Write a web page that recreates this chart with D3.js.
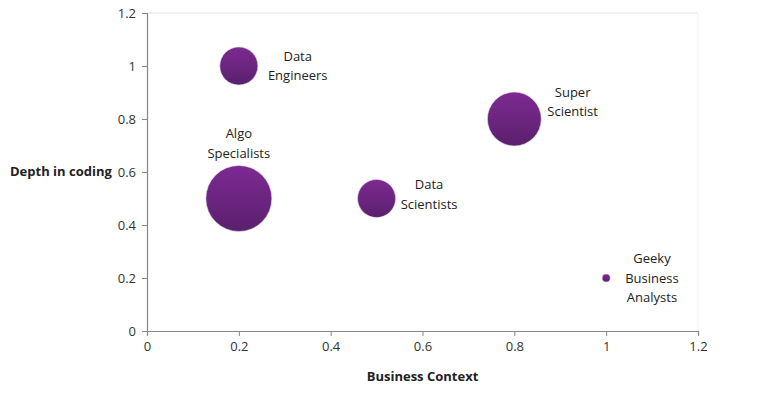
<!DOCTYPE html>
<html lang="en">
<head>
<meta charset="utf-8">
<title>Depth in coding vs Business Context</title>
<script src="https://d3js.org/d3.v7.min.js"></script>
<style>
  body { margin: 0; background: #fff; }
  text { font-family: "Open Sans", Lato, sans-serif; fill: #333; }
  .axis path, .axis line { stroke: #868686; }
  .axis text { font-size: 13px; fill: #333; }
  .title { font-weight: bold; font-size: 13px; fill: #222; }
  .lbl { font-size: 13px; fill: #222; }
</style>
</head>
<body>
<script>
// data
var roles = [["Data", "Engineers"], ["Super", "Scientist"], ["Algo", "Specialists"], ["Data", "Scientists"], ["Geeky", "Business", "Analysts"]];
var context = [0.2, 0.8, 0.2, 0.5, 1.0];
var coding = [1.0, 0.8, 0.5, 0.5, 0.2];
var bubble = [10, 20, 30, 10, 0.45];
var xTicks = [0, 0.2, 0.4, 0.6, 0.8, 1, 1.2];
var yTicks = [0, 0.2, 0.4, 0.6, 0.8, 1, 1.2];

// label placement (style, not data)
var labelSide = ["right", "right", "above", "right", "right"];
var labelNudgeY = [0, -17, 0, -4, 0];
var labelNudgeX = [4, 0, 0, -1, 9];

var W = 780, H = 397;
var m = {top: 13, right: 82, bottom: 66, left: 147};
var w = W - m.left - m.right, h = H - m.top - m.bottom;

var svg = d3.select("body").append("svg")
    .attr("width", W).attr("height", H);

var defs = svg.append("defs");
var grad = defs.append("linearGradient").attr("id", "bub")
    .attr("x1", 0).attr("y1", 0).attr("x2", 0).attr("y2", 1);
grad.append("stop").attr("offset", "0%").attr("stop-color", "#7d2a92");
grad.append("stop").attr("offset", "100%").attr("stop-color", "#5a206d");

var g = svg.append("g").attr("transform", "translate(" + m.left + "," + m.top + ")");

var x = d3.scaleLinear().domain([0, 1.2]).range([0, w]);
var y = d3.scaleLinear().domain([0, 1.2]).range([h, 0]);
var r = d3.scaleSqrt().domain([0, 30]).range([0, 33]);

// plot frame (faint top + right)
g.append("line").attr("x1", 0).attr("x2", w).attr("y1", 0).attr("y2", 0)
    .attr("stroke", "#e3e3e3");
g.append("line").attr("x1", w).attr("x2", w).attr("y1", 0).attr("y2", h)
    .attr("stroke", "#f0f0f0");

var fmt = function(d) { return d3.format("~g")(d); };

g.append("g").attr("class", "axis")
    .attr("transform", "translate(0," + h + ")")
    .call(d3.axisBottom(x).tickValues(xTicks).tickFormat(fmt).tickSize(5).tickSizeOuter(5).tickPadding(6));

g.append("g").attr("class", "axis")
    .call(d3.axisLeft(y).tickValues(yTicks).tickFormat(fmt).tickSize(5).tickSizeOuter(5).tickPadding(6));

g.selectAll(".axis .domain").attr("stroke-width", 1.2);

// axis titles
svg.append("text").attr("class", "title")
    .attr("x", 10).attr("y", 176)
    .text("Depth in coding");
svg.append("text").attr("class", "title")
    .attr("x", m.left + x(0.6)).attr("y", 381)
    .attr("text-anchor", "middle")
    .text("Business Context");

// bubbles
var pts = roles.map(function(d, i) {
  return {lines: d, cx: x(context[i]), cy: y(coding[i]), r: r(bubble[i]),
          side: labelSide[i], dx: labelNudgeX[i], dy: labelNudgeY[i]};
});

g.selectAll("circle").data(pts).enter().append("circle")
    .attr("cx", function(d) { return d.cx; })
    .attr("cy", function(d) { return d.cy; })
    .attr("r", function(d) { return d.r; })
    .attr("fill", "url(#bub)")
    .attr("stroke", "#e8dcef").attr("stroke-width", 0.6);

// labels
var lh = 19.5;
pts.forEach(function(d) {
  var t = g.append("text").attr("class", "lbl").attr("text-anchor", "middle");
  d.lines.forEach(function(s, k) {
    t.append("tspan").attr("x", 0).attr("y", k * lh).text(s);
  });
  var maxW = 0;
  t.selectAll("tspan").each(function() { maxW = Math.max(maxW, this.getComputedTextLength()); });
  var n = d.lines.length;
  var tx, ty;
  if (d.side === "right") {
    tx = d.cx + d.r + 6 + maxW / 2 + d.dx;
    ty = d.cy - (n - 1) * lh / 2 + 4.5 + d.dy;
  } else {
    tx = d.cx + d.dx;
    ty = d.cy - d.r - 8 - (n - 1) * lh + d.dy;
  }
  t.attr("transform", "translate(" + tx + "," + ty + ")");
});
</script>
</body>
</html>
